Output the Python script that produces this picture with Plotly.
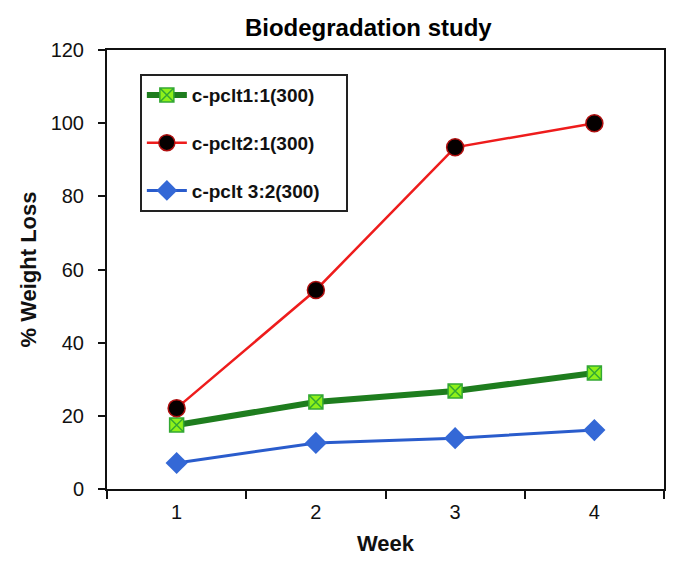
import plotly.graph_objects as go

# Data
weeks = ['1', '2', '3', '4']
names = ['c-pclt1:1(300)', 'c-pclt2:1(300)', 'c-pclt 3:2(300)']
loss_11 = [17.5, 23.8, 26.8, 31.7]
loss_21 = [22.1, 54.4, 93.4, 100.0]
loss_32 = [7.1, 12.6, 13.9, 16.1]
y_ticks = [0, 20, 40, 60, 80, 100, 120]

FONT = 'Liberation Sans, Arial, sans-serif'

fig = go.Figure()

fig.add_trace(go.Scatter(
    x=weeks, y=loss_11, name=names[0], legendgroup='a', mode='lines+markers',
    line={'color': '#1e7d1e', 'width': 6},
    marker={'symbol': 'square-x', 'size': 14, 'color': '#8ef01a',
            'line': {'color': '#33a833', 'width': 1.5}},
))
fig.add_trace(go.Scatter(
    x=weeks, y=loss_21, name=names[1], legendgroup='b', mode='lines+markers',
    line={'color': '#ee1c1c', 'width': 2.5},
    marker={'symbol': 'circle', 'size': 17, 'color': '#050000',
            'line': {'color': '#b01010', 'width': 1.5}},
))
fig.add_trace(go.Scatter(
    x=weeks, y=loss_32, name=names[2], legendgroup='c', mode='lines+markers',
    line={'color': '#2a5ccc', 'width': 3},
    marker={'symbol': 'diamond', 'size': 17, 'color': '#3468d6',
            'line': {'color': '#2a5ccc', 'width': 0}},
))

fig.update_layout(
    width=685, height=567,
    margin={'l': 99, 'r': 29, 't': 42, 'b': 86},
    paper_bgcolor='white', plot_bgcolor='white',
    font={'family': FONT, 'color': '#111111'},
    title={'text': '<b>Biodegradation study</b>', 'x': 0.526, 'xanchor': 'center',
           'y': 0.966, 'yanchor': 'middle', 'font': {'size': 24, 'color': '#000000'}},
    showlegend=True,
    legend={'x': 0.059, 'y': 0.945, 'xanchor': 'left', 'yanchor': 'top',
            'bordercolor': '#222222', 'borderwidth': 2, 'bgcolor': 'white',
            'font': {'size': 19, 'color': '#111111', 'family': FONT},
            'traceorder': 'grouped', 'tracegroupgap': 20,
            'itemwidth': 40},
    xaxis={
        'type': 'category', 'range': [-0.5, 3.5],
        'showline': True, 'linecolor': '#111111', 'linewidth': 2,
        'mirror': True, 'ticks': 'outside', 'tickson': 'boundaries',
        'ticklen': 8, 'tickwidth': 1.5, 'tickcolor': '#111111',
        'showgrid': False, 'zeroline': False,
        'tickfont': {'size': 20}, 'ticklabelstandoff': 4,
        'title': {'text': '<b>Week</b>', 'font': {'size': 22}, 'standoff': 14},
    },
    yaxis={
        'range': [0, 120], 'tickvals': y_ticks,
        'showline': True, 'linecolor': '#111111', 'linewidth': 2,
        'mirror': True, 'ticks': 'outside', 'ticklen': 7,
        'tickwidth': 1.5, 'tickcolor': '#111111',
        'showgrid': False, 'zeroline': False,
        'tickfont': {'size': 20}, 'ticklabelstandoff': 10,
        'title': {'text': '<b>% Weight Loss</b>', 'font': {'size': 22}, 'standoff': 8},
    },
)

# bold legend labels, with a little room on the right like the original box
for tr in fig.data:
    tr.name = '<b>' + tr.name + '</b>' + '\u00a0' * 4

fig.write_html('out.html')
